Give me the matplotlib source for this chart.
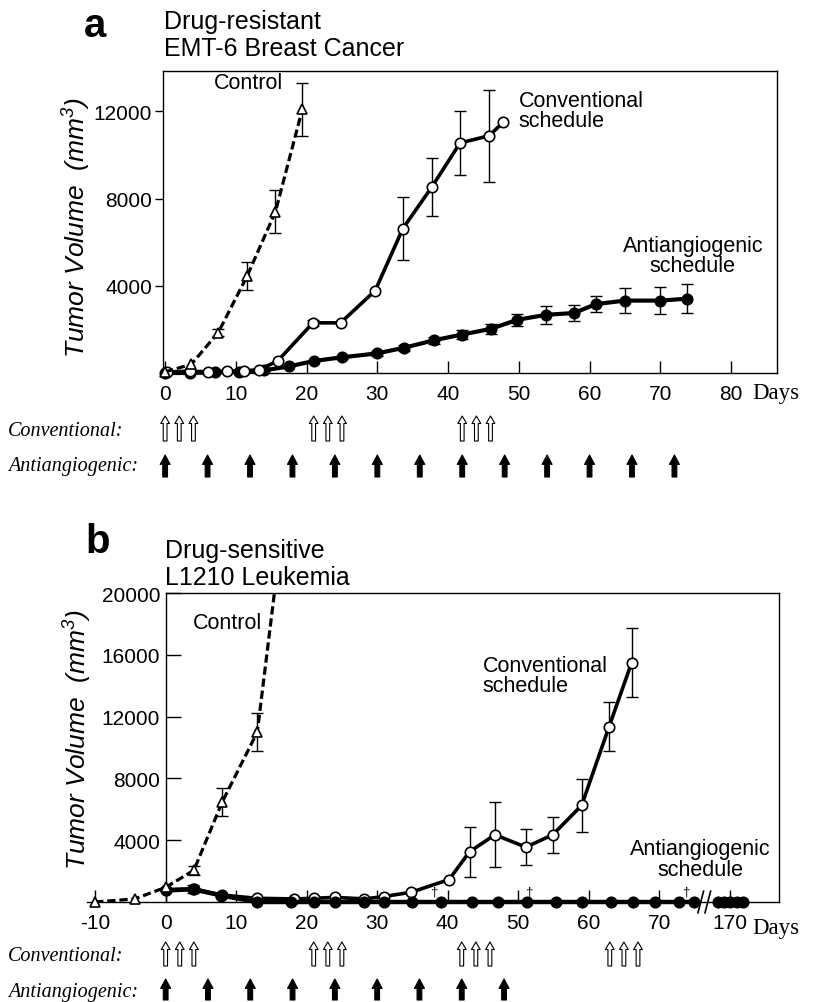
import numpy as np
import matplotlib.pyplot as plt
from matplotlib.transforms import blended_transform_factory

plt.rcParams['font.family'] = ['Liberation Sans', 'DejaVu Sans']
plt.rcParams['mathtext.fontset'] = 'custom'
plt.rcParams['mathtext.rm'] = 'Liberation Sans:italic'
plt.rcParams['mathtext.it'] = 'Liberation Sans:italic'

W, H = 821, 1003  # output size in px (dpi 100)

# ---- panel a: drug-resistant EMT-6 breast cancer ----
a_ctrl_days = [0, 3.7, 7.5, 11.6, 15.6, 19.4]
a_ctrl_vol = [50, 400, 1850, 4450, 7400, 12100]
a_ctrl_err = [0, 0, 150, 650, 970, 1220]

a_conv_days = [0.3, 3.5, 6, 8.7, 11.2, 13.3, 15.9, 20.9, 24.8, 29.7, 33.6, 37.7, 41.7, 45.8, 47.8]
a_conv_vol = [50, 80, 60, 80, 100, 150, 550, 2300, 2300, 3780, 6620, 8530, 10550, 10880, 11500]
a_conv_err = [0, 0, 0, 0, 0, 0, 0, 150, 0, 0, 1450, 1340, 1470, 2120, 0]

a_anti_days = [0, 3.5, 7, 10.5, 14, 17.5, 21, 25, 30, 33.8, 38, 41.9, 46, 49.8, 53.9, 57.8, 60.9, 65, 70, 73.8]
a_anti_vol = [0, 0, 30, 60, 120, 300, 550, 720, 900, 1160, 1500, 1760, 2020, 2440, 2670, 2750, 3160, 3320, 3320, 3410]
a_anti_err = [0, 0, 0, 0, 0, 0, 0, 80, 100, 130, 150, 200, 230, 280, 400, 370, 380, 560, 620, 670]

a_conv_doses = [0, 2, 4, 21, 23, 25, 42, 44, 46]
a_anti_doses = [0, 6, 12, 18, 24, 30, 36, 42, 48, 54, 60, 66, 72]
a_xticks = [0, 10, 20, 30, 40, 50, 60, 70, 80]
a_xlabels = ['0', '10', '20', '30', '40', '50', '60', '70', '80']
a_yticks = [4000, 8000, 12000]

# ---- panel b: drug-sensitive L1210 leukemia ----
b_ctrl_days = [-10, -4.4, 0, 4, 8, 13, 16.5]
b_ctrl_vol = [0, 200, 950, 2050, 6450, 11000, 24000]
b_ctrl_err = [0, 0, 0, 300, 900, 1250, 0]

b_conv_days = [0, 4, 8, 12.9, 18.2, 21.1, 24, 28.2, 30.9, 34.8, 40.2, 43.1, 46.7, 51.1, 54.9, 59, 62.9, 66.1]
b_conv_vol = [800, 850, 450, 240, 200, 240, 300, 200, 350, 630, 1450, 3250, 4350, 3550, 4350, 6250, 11350, 15500]
b_conv_err = [0, 0, 0, 0, 0, 0, 0, 0, 0, 0, 0, 1600, 2100, 1150, 1150, 1700, 1600, 2250]

b_anti_days = [0, 3.9, 7.9, 12.9, 17.8, 21.1, 24, 28.2, 31, 35, 39.1, 43.4, 47.1, 51.2,
               55.3, 59.1, 63.1, 66.3, 69.4, 72.8, 75]
b_anti_vol = [750, 820, 420, 0, 0, 0, 0, 0, 0, 0, 0, 0, 0, 0, 0, 0, 0, 0, 0, 0, 0]
b_anti_err = [0, 250, 100, 0, 0, 0, 0, 0, 0, 0, 0, 0, 0, 0, 0, 0, 0, 0, 0, 0, 0]
# days after the axis break (up to day 170), drawn compressed
b_anti_late_pos = [78.3, 79.2, 80.1, 81.0, 81.9]
b_anti_late_vol = [0, 0, 0, 0, 0]
b_death_days = [38.0, 51.5, 73.8]

b_conv_doses = [0, 2, 4, 21, 23, 25, 42, 44, 46, 63, 65, 67]
b_anti_doses = [0, 6, 12, 18, 24, 30, 36, 42, 48]
b_xticks = [-10, 0, 10, 20, 30, 40, 50, 60, 70, 80]
b_xlabels = ['-10', '0', '10', '20', '30', '40', '50', '60', '70', '170']
b_yticks = [4000, 8000, 12000, 16000, 20000]


def fx(px):
    return px / W


def fy(py):
    return 1 - py / H


fig = plt.figure(figsize=(W / 100, H / 100), dpi=100)


def series(ax, x, y, err, marker, mfc, ls, lw, z, dashes=None, clip_line=False):
    x = np.asarray(x, float)
    y = np.asarray(y, float)
    err = np.asarray(err, float)
    m = err > 0
    if m.any():
        ax.errorbar(x[m], y[m], yerr=err[m], fmt='none', ecolor='black',
                    elinewidth=1, capsize=4, capthick=1, zorder=z - 0.5)
    line, = ax.plot(x, y, ls=ls, color='black', lw=lw, zorder=z - 0.2,
                    clip_on=clip_line)
    if dashes:
        line.set_dashes(dashes)
    ax.plot(x, y, ls='none', marker=marker, mfc=mfc, mec='black', mew=1.2,
            ms=7.5, zorder=z, clip_on=False)


def dose_arrows(ax, days, y_tail, y_head, filled):
    tr = blended_transform_factory(ax.transData, fig.transFigure)
    if filled:
        style = 'simple,head_length=0.75,head_width=0.8,tail_width=0.38'
    else:
        style = 'simple,head_length=0.6,head_width=0.7,tail_width=0.3'
    for d in days:
        ax.annotate('', xy=(d, fy(y_head)), xytext=(d, fy(y_tail)),
                    xycoords=tr, textcoords=tr, annotation_clip=False,
                    arrowprops=dict(arrowstyle=style,
                                    fc='black' if filled else 'white',
                                    ec='black', lw=0.8, shrinkA=0, shrinkB=0,
                                    mutation_scale=9))


def style_axes(ax):
    for s in ax.spines.values():
        s.set_linewidth(1.0)
    ax.tick_params(axis='x', direction='in', length=9, width=1, pad=8, labelsize=15)
    ax.tick_params(axis='y', labelsize=15)


ylab = 'Tumor Volume  (mm$^{3}$)'
serif_it = dict(family=['Liberation Serif', 'DejaVu Serif'], style='italic', size=14.5)
serif = dict(family=['Liberation Serif', 'DejaVu Serif'], size=16.5)

# ================= panel a =================
ax1 = fig.add_axes([fx(163), fy(374), 614 / W, 302 / H])
ax1.set_xlim(-0.3, 86.5)
ax1.set_ylim(0, 13850)
series(ax1, a_anti_days, a_anti_vol, a_anti_err, 'o', 'black', '-', 3.0, 3)
series(ax1, a_conv_days, a_conv_vol, a_conv_err, 'o', 'white', '-', 2.6, 4)
series(ax1, a_ctrl_days, a_ctrl_vol, a_ctrl_err, '^', 'white', '--', 2.3, 5, dashes=(2.6, 1.2))
style_axes(ax1)
ax1.set_xticks(a_xticks)
ax1.set_xticklabels(a_xlabels)
ax1.set_yticks(a_yticks)
ax1.tick_params(axis='y', direction='out', length=6, width=1, pad=2)

ax1.text(11.8, 13300, 'Control', fontsize=15.5, ha='center', va='center')
ax1.text(50, 12050, 'Conventional\nschedule', fontsize=15.5, ha='left', va='center',
         linespacing=0.95)
ax1.text(74.6, 5390, 'Antiangiogenic\nschedule', fontsize=15.5, ha='center', va='center',
         linespacing=0.95)

fig.text(fx(95), fy(37), 'a', fontsize=29, fontweight='bold', ha='center', va='baseline')
fig.text(fx(164), fy(28.5), 'Drug-resistant', fontsize=18, ha='left', va='baseline')
fig.text(fx(164), fy(56.5), 'EMT-6 Breast Cancer', fontsize=18, ha='left', va='baseline')
fig.text(fx(77), fy(228), ylab, fontsize=19, style='italic', rotation=90,
         ha='center', va='center')
fig.text(fx(752), fy(394), 'Days', ha='left', va='center', **serif)

fig.text(fx(8), fy(432), 'Conventional:', ha='left', va='center', **serif_it)
fig.text(fx(8), fy(467), 'Antiangiogenic:', ha='left', va='center', **serif_it)
dose_arrows(ax1, a_conv_doses, 442, 417, False)
dose_arrows(ax1, a_anti_doses, 478, 456, True)

# ================= panel b =================
ax2 = fig.add_axes([fx(86.7), fy(903), (779 - 86.7) / W, 309 / H])
ax2.set_xlim(-11.2, 87)
ax2.set_ylim(0, 20000)
ax2.spines['left'].set_position(('data', 0))
ax2.spines['top'].set_bounds(0, 87)

series(ax2, b_conv_days, b_conv_vol, b_conv_err, 'o', 'white', '-', 2.6, 3)
series(ax2, b_anti_days, b_anti_vol, b_anti_err, 'o', 'black', '-', 3.2, 4)
series(ax2, b_anti_late_pos, b_anti_late_vol, [0] * len(b_anti_late_pos), 'o', 'black', '-', 3.2, 4)

# control: clipped line, markers only for on-scale points
ctrl_x = np.asarray(b_ctrl_days, float)
ctrl_y = np.asarray(b_ctrl_vol, float)
ctrl_e = np.asarray(b_ctrl_err, float)
on = ctrl_y <= 20000
ln, = ax2.plot(ctrl_x, ctrl_y, ls='--', color='black', lw=2.3, zorder=4.8, clip_on=True)
ln.set_dashes((2.6, 1.2))
m = ctrl_e > 0
ax2.errorbar(ctrl_x[m], ctrl_y[m], yerr=ctrl_e[m], fmt='none', ecolor='black',
             elinewidth=1, capsize=4, capthick=1, zorder=4.5)
ax2.plot(ctrl_x[on], ctrl_y[on], ls='none', marker='^', mfc='white', mec='black',
         mew=1.2, ms=7.5, zorder=5, clip_on=False)

for d in b_death_days:
    ax2.text(d, 650, '\u2020', fontsize=9.5, ha='center', va='center', zorder=6)

# axis break
for x0 in (75.5, 76.5):
    ax2.plot([x0, x0 + 0.8], [-700, 700], color='black', lw=1.2, clip_on=False, zorder=6)

style_axes(ax2)
ax2.set_xticks(b_xticks)
ax2.set_xticklabels(b_xlabels)
ax2.set_yticks(b_yticks)
ax2.tick_params(axis='y', direction='in', length=11, width=1, pad=4)

ax2.text(8.8, 18120, 'Control', fontsize=15.5, ha='center', va='center')
ax2.text(45, 14660, 'Conventional\nschedule', fontsize=15.5, ha='left', va='center',
         linespacing=0.95)
ax2.text(75.9, 2780, 'Antiangiogenic\nschedule', fontsize=15.5, ha='center', va='center',
         linespacing=0.95)

fig.text(fx(98), fy(553), 'b', fontsize=29, fontweight='bold', ha='center', va='baseline')
fig.text(fx(165), fy(558), 'Drug-sensitive', fontsize=18, ha='left', va='baseline')
fig.text(fx(165), fy(585), 'L1210 Leukemia', fontsize=18, ha='left', va='baseline')
fig.text(fx(77.5), fy(740), ylab, fontsize=19, style='italic', rotation=90,
         ha='center', va='center')
fig.text(fx(752), fy(929), 'Days', ha='left', va='center', **serif)

fig.text(fx(8), fy(957), 'Conventional:', ha='left', va='center', **serif_it)
fig.text(fx(8), fy(993), 'Antiangiogenic:', ha='left', va='center', **serif_it)
dose_arrows(ax2, b_conv_doses, 967, 943, False)
dose_arrows(ax2, b_anti_doses, 1001, 980, True)

fig.savefig('out.png', dpi=100)
